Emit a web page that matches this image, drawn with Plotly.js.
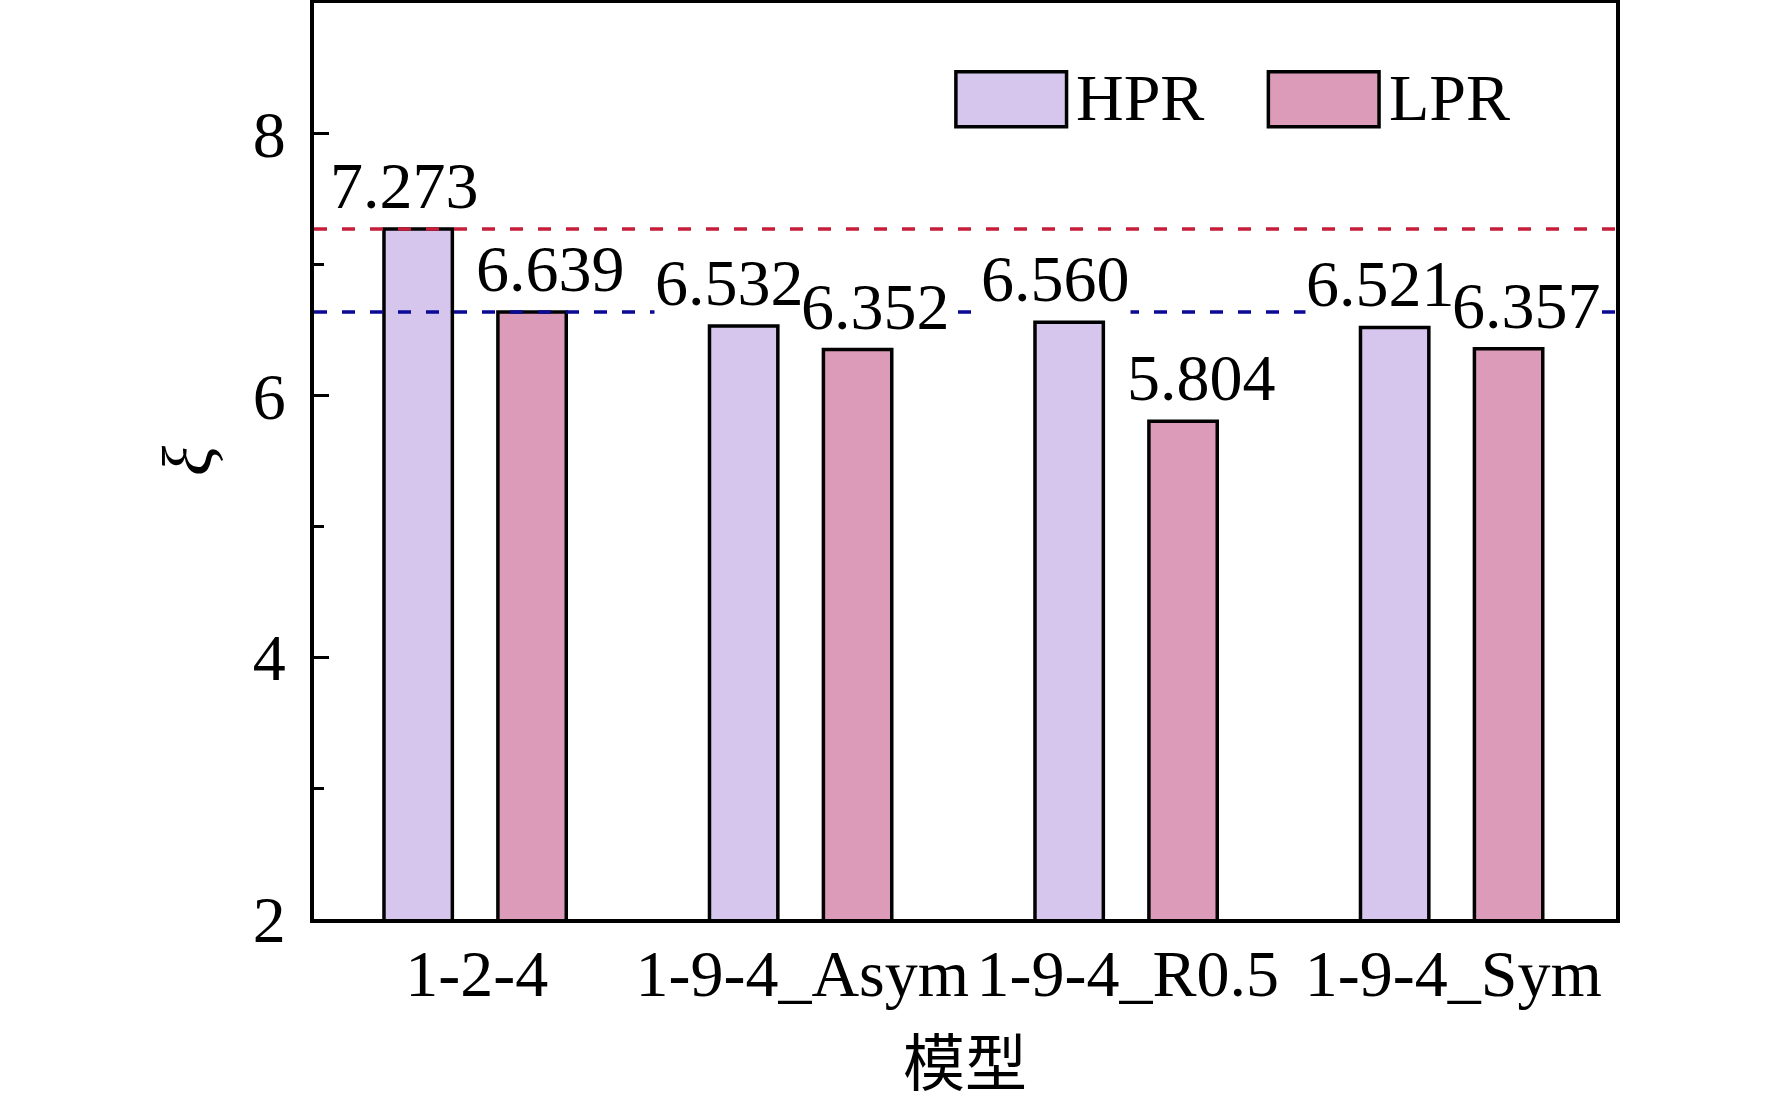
<!DOCTYPE html>
<html>
<head>
<meta charset="utf-8">
<script src="https://cdn.plot.ly/plotly-3.0.1.min.js"></script>
<style>
  body { margin: 0; background: #fff; }
  #chart { width: 1772px; height: 1112px; }
</style>
</head>
<body>
<div id="chart"></div>
<script>
const categories = ['1-2-4', '1-9-4_Asym', '1-9-4_R0.5', '1-9-4_Sym'];
const hprValues = [7.273, 6.532, 6.560, 6.521];
const lprValues = [6.639, 6.352, 5.804, 6.357];
const seriesNames = ['HPR', 'LPR'];
const yTicks = [2, 4, 6, 8];

const serif = 'Liberation Serif, Times New Roman, serif';
const hprColor = '#d6c6ee';
const lprColor = '#dd9bba';
const barWidth = 0.21;

// bar placement inside each category, label nudges so neighbours don't collide
const series = [
    { name: seriesNames[0], y: hprValues, color: hprColor, offset: -0.285, shift: -14 },
    { name: seriesNames[1], y: lprValues, color: lprColor, offset: 0.065, shift: 18 },
];

const traces = series.map(s => ({
    type: 'bar',
    x: categories,
    y: s.y,
    name: s.name,
    width: barWidth,
    offset: s.offset,
    marker: { color: s.color, line: { color: '#000', width: 3.5 } },
    showlegend: false,
    hoverinfo: 'x+y',
}));

const annotations = [];
series.forEach(s => {
    s.y.forEach((v, i) => {
        annotations.push({
            x: i + s.offset + barWidth / 2,
            y: v,
            xref: 'x', yref: 'y',
            text: v.toFixed(3),
            showarrow: false,
            xanchor: 'center', yanchor: 'bottom',
            xshift: s.shift, yshift: 6,
            bgcolor: '#fff',
            borderpad: 0,
            font: { family: serif, size: 66, color: '#000' },
        });
    });
});

// hand-made legend: big swatches like the original
const legendBoxes = [[0.493, 0.578], [0.733, 0.818]];
const shapes = [
    {
        type: 'line', xref: 'paper', yref: 'y',
        x0: 0, x1: 1, y0: hprValues[0], y1: hprValues[0],
        line: { color: '#c41e3a', width: 3.5, dash: '13px,15px' },
    },
    {
        type: 'line', xref: 'paper', yref: 'y',
        x0: 0, x1: 1, y0: lprValues[0], y1: lprValues[0],
        line: { color: '#0a0a96', width: 3.5, dash: '13px,15px' },
    },
];
series.forEach((s, k) => {
    shapes.push({
        type: 'rect', xref: 'paper', yref: 'paper',
        x0: legendBoxes[k][0], x1: legendBoxes[k][1], y0: 0.865, y1: 0.925,
        fillcolor: s.color,
        line: { color: '#000', width: 3.5 },
    });
    annotations.push({
        x: legendBoxes[k][1] + 0.006, y: 0.897,
        xref: 'paper', yref: 'paper',
        text: s.name,
        showarrow: false,
        xanchor: 'left', yanchor: 'middle',
        font: { family: serif, size: 66, color: '#000' },
    });
});

const layout = {
    width: 1772,
    height: 1112,
    margin: { l: 314, r: 156, t: 3, b: 193 },
    paper_bgcolor: '#fff',
    plot_bgcolor: '#fff',
    barmode: 'overlay',
    showlegend: false,
    font: { family: serif, size: 66, color: '#000' },
    xaxis: {
        type: 'category',
        range: [-0.5, 3.5],
        showline: true, mirror: true, linecolor: '#000', linewidth: 4,
        ticks: '',
        showgrid: false, zeroline: false,
        ticklabelstandoff: -6,
        tickfont: { family: serif, size: 66 },
        title: {
            text: '模型',
            font: { family: 'Noto Sans CJK SC', size: 62 },
            standoff: 34,
        },
    },
    yaxis: {
        range: [2, 9],
        tickvals: yTicks,
        ticktext: yTicks.map(String),
        ticks: 'inside', ticklen: 15, tickwidth: 3, tickcolor: '#000',
        minor: { dtick: 1, ticks: 'inside', ticklen: 10, tickwidth: 3, tickcolor: '#000' },
        showline: true, mirror: true, linecolor: '#000', linewidth: 4,
        showgrid: false, zeroline: false,
        ticklabelstandoff: 11,
        tickfont: { family: serif, size: 66 },
        title: {
            text: 'ξ',
            font: { family: serif, size: 70, style: 'italic' },
            standoff: 19,
        },
    },
    shapes: shapes,
    annotations: annotations,
};

Plotly.newPlot('chart', traces, layout, { displayModeBar: false, staticPlot: true });
</script>
</body>
</html>
